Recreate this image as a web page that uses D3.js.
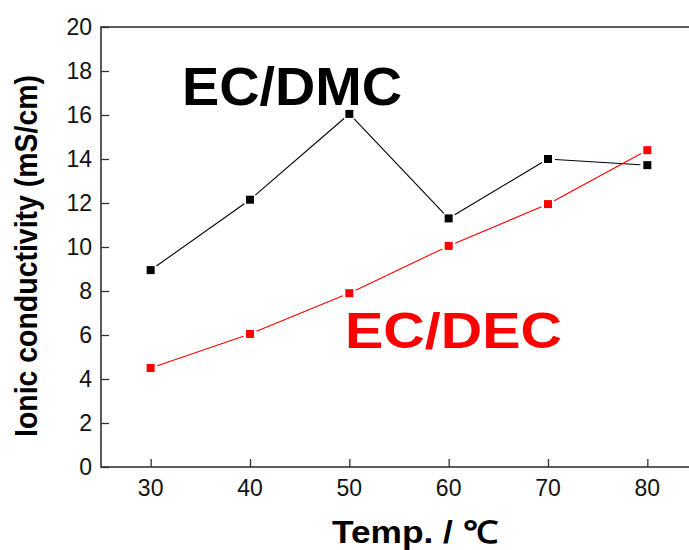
<!DOCTYPE html>
<html>
<head>
<meta charset="utf-8">
<script src="https://cdn.jsdelivr.net/npm/d3@7/dist/d3.min.js"></script>
<style>
  html, body { margin: 0; padding: 0; background: #fff; }
  svg { display: block; }
  text { font-family: "Liberation Sans", Arial, Helvetica, sans-serif; }
</style>
</head>
<body>
<svg id="chart" width="689" height="550"></svg>
<script>
// ---- data ----
const temps = [30, 40, 50, 60, 70, 80];
const ecDmc = [8.95, 12.15, 16.05, 11.3, 14.0, 13.72];
const ecDec = [4.5, 6.05, 7.9, 10.05, 11.95, 14.4];
const xTicks = [30, 40, 50, 60, 70, 80];
const yTicks = [0, 2, 4, 6, 8, 10, 12, 14, 16, 18, 20];
const seriesNames = ["EC/DMC", "EC/DEC"];
const seriesColors = ["#000000", "#ff0000"];

(function () {
const svg = d3.select("#chart");
const pLeft = 101, pRight = 697, pTop = 27, pBottom = 467;

const x = d3.scaleLinear().domain([25, 85]).range([pLeft, pRight]);
const y = d3.scaleLinear().domain([0, 20]).range([pBottom, pTop]);

const axisColor = "#333";

// frame
svg.append("rect")
  .attr("x", pLeft).attr("y", pTop)
  .attr("width", pRight - pLeft).attr("height", pBottom - pTop)
  .attr("fill", "none").attr("stroke", axisColor).attr("stroke-width", 1.6);

// y axis (inward ticks)
const yAxis = svg.append("g")
  .attr("transform", `translate(${pLeft},0)`)
  .call(d3.axisRight(y).tickValues(yTicks).tickSize(8).tickFormat(""));
yAxis.select(".domain").remove();
yAxis.selectAll(".tick line").attr("stroke", axisColor).attr("stroke-width", 1.3);

svg.append("g").selectAll("text").data(yTicks).join("text")
  .attr("x", pLeft - 9).attr("y", d => y(d))
  .attr("dy", "0.36em")
  .attr("text-anchor", "end")
  .attr("font-size", 23).attr("fill", "#111")
  .text(d => d);

// x axis (inward ticks)
const xAxis = svg.append("g")
  .attr("transform", `translate(0,${pBottom})`)
  .call(d3.axisTop(x).tickValues(xTicks).tickSize(8).tickFormat(""));
xAxis.select(".domain").remove();
xAxis.selectAll(".tick line").attr("stroke", axisColor).attr("stroke-width", 1.3);

svg.append("g").selectAll("text").data(xTicks).join("text")
  .attr("x", d => x(d)).attr("y", 496)
  .attr("text-anchor", "middle")
  .attr("font-size", 23).attr("fill", "#111")
  .text(d => d);

// axis titles
svg.append("text")
  .attr("x", 332).attr("y", 543)
  .attr("font-size", 31).attr("font-weight", "bold").attr("fill", "#000")
  .attr("textLength", 166).attr("lengthAdjust", "spacingAndGlyphs")
  .text("Temp. / ℃");

svg.append("text")
  .attr("transform", "translate(37,437) rotate(-90)")
  .attr("x", 0).attr("y", 0)
  .attr("font-size", 32).attr("font-weight", "bold").attr("fill", "#000")
  .attr("textLength", 362).attr("lengthAdjust", "spacingAndGlyphs")
  .text("Ionic conductivity (mS/cm)");

// series
const allSeries = [ecDmc, ecDec];
const gap = 7;
allSeries.forEach((vals, si) => {
  const pts = temps.map((t, i) => [x(t), y(vals[i])]);
  const g = svg.append("g");
  for (let i = 0; i < pts.length - 1; i++) {
    const [x1, y1] = pts[i], [x2, y2] = pts[i + 1];
    const len = Math.hypot(x2 - x1, y2 - y1);
    const ux = (x2 - x1) / len, uy = (y2 - y1) / len;
    g.append("line")
      .attr("x1", x1 + ux * gap).attr("y1", y1 + uy * gap)
      .attr("x2", x2 - ux * gap).attr("y2", y2 - uy * gap)
      .attr("stroke", seriesColors[si]).attr("stroke-width", 1.1);
  }
  const s = 8;
  g.selectAll("rect").data(pts).join("rect")
    .attr("x", d => d[0] - s / 2).attr("y", d => d[1] - s / 2)
    .attr("width", s).attr("height", s)
    .attr("fill", seriesColors[si]);
});

// series labels
svg.append("text")
  .attr("x", 182).attr("y", 105)
  .attr("font-size", 53).attr("font-weight", "bold").attr("fill", seriesColors[0])
  .attr("textLength", 220).attr("lengthAdjust", "spacingAndGlyphs")
  .text(seriesNames[0]);

svg.append("text")
  .attr("x", 345).attr("y", 348)
  .attr("font-size", 50).attr("font-weight", "bold").attr("fill", seriesColors[1])
  .attr("textLength", 217).attr("lengthAdjust", "spacingAndGlyphs")
  .text(seriesNames[1]);
})();
</script>
</body>
</html>
